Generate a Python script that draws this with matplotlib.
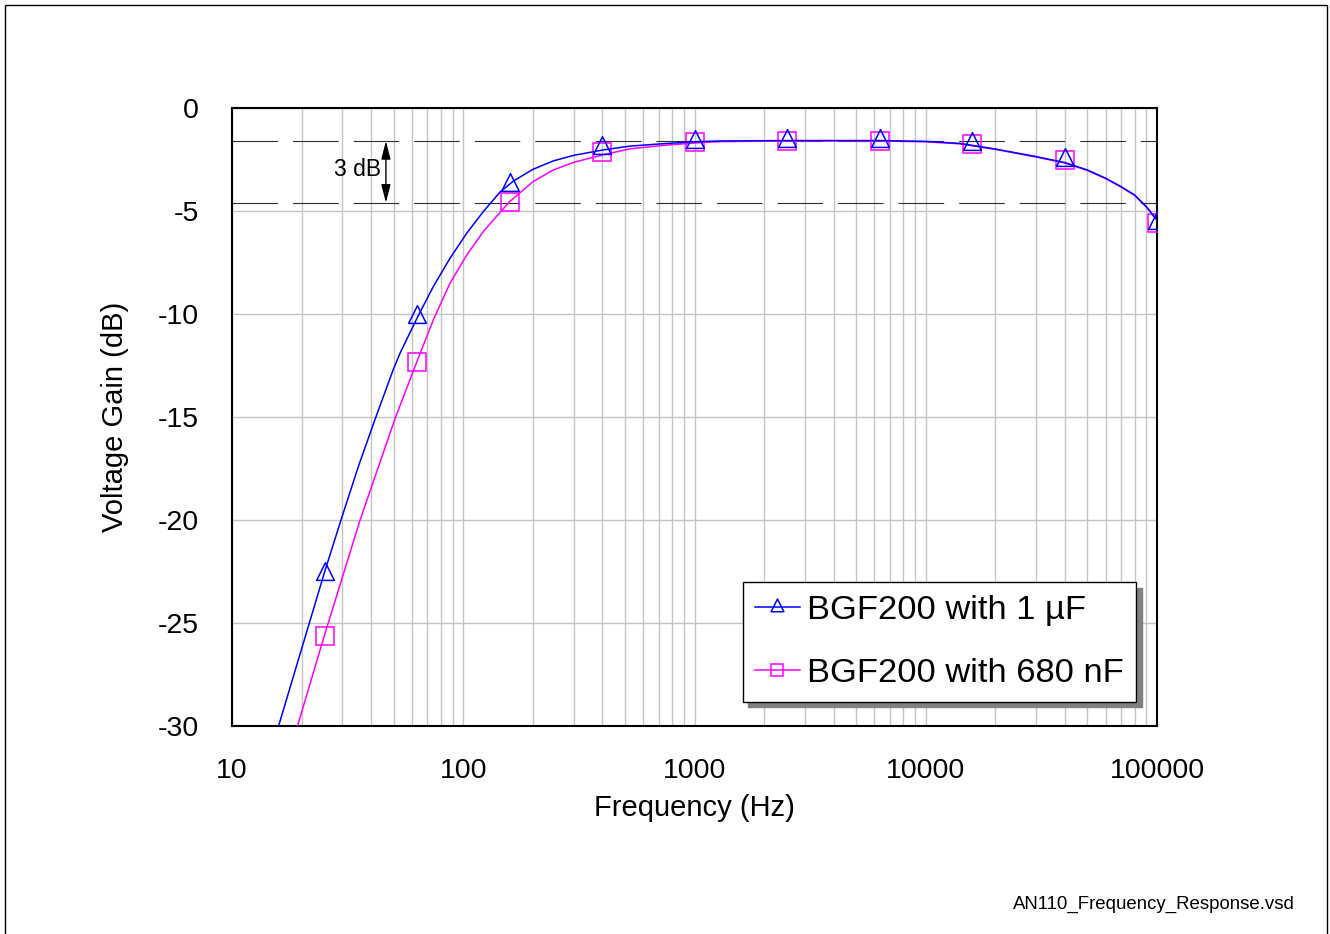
import numpy as np
import matplotlib
matplotlib.use("Agg")
import matplotlib.pyplot as plt
from matplotlib.path import Path
from matplotlib.patches import Rectangle

plt.rcParams["font.family"] = ["Liberation Sans", "DejaVu Sans"]

# --- curve samples (Hz, dB) ---
f_1uF = [15.9, 25.1, 29.6, 35.2, 41.9, 49.8, 53.3, 63.1, 74.2, 87.6, 103.5,
         122.1, 144.2, 164.6, 200, 244.9, 300, 400, 526, 758, 1057, 1288, 2512, 6310,
         10000, 14060, 20000, 30000, 40000, 50000, 60000, 70000, 80000, 90000,
         100000]
g_1uF = [-30.0, -22.55, -20.0, -17.4, -15.0, -12.7, -11.9, -10.2, -8.67, -7.30, -6.08,
         -5.03, -4.08, -3.55, -2.98, -2.57, -2.30, -2.04, -1.85, -1.72, -1.63, -1.60, -1.58, -1.58,
         -1.62, -1.72, -1.99, -2.36, -2.65, -3.01, -3.41, -3.82, -4.22, -4.79,
         -5.44]

f_680nF = [19.2, 25.1, 35.8, 51.0, 63.1, 74.2, 87.6, 103.5, 122.1, 134.9, 158.5,
           200, 244.9, 300, 400, 526, 758, 1057, 1288, 2512, 6310,
           10000, 14060, 20000, 30000, 40000, 50000, 60000, 70000, 80000, 90000,
           100000]
g_680nF = [-30.0, -25.6, -20.0, -15.0, -12.3, -10.29, -8.51, -7.14, -6.00, -5.44, -4.55,
           -3.58, -3.01, -2.64, -2.28, -1.98, -1.80, -1.68, -1.63, -1.60, -1.60,
           -1.64, -1.74, -2.01, -2.38, -2.67, -3.03, -3.43, -3.84, -4.24, -4.81,
           -5.46]

# measured points (markers)
f_meas = [25.12, 63.10, 158.5, 398.1, 1000, 2512, 6310, 15849, 39811, 100000]
m_1uF = [-22.6, -10.16, -3.73, -1.95, -1.67, -1.62, -1.62, -1.76, -2.5, -5.6]
m_680nF = [-25.64, -12.33, -4.55, -2.14, -1.66, -1.59, -1.60, -1.74, -2.5, -5.59]

x_ticks = [10, 100, 1000, 10000, 100000]
x_labels = ["10", "100", "1000", "10000", "100000"]
y_ticks = [0, -5, -10, -15, -20, -25, -30]
y_labels = ["0", "-5", "-10", "-15", "-20", "-25", "-30"]

band_top, band_bot = -1.6, -4.6

# triangle with its centroid at the origin
tri = Path([(0, 2 / 3), (-0.5, -1 / 3), (0.5, -1 / 3), (0, 0)], closed=True)

W, H = 1330, 934
fig = plt.figure(figsize=(W / 100, H / 100), dpi=100)
ax = fig.add_axes([232 / W, 1 - 726 / H, 925 / W, 618 / H])

ax.set_xscale("log")
ax.set_xlim(10, 100000)
ax.set_ylim(-30, 0)

ax.grid(True, which="both", axis="x", color="#c4c4c4", lw=1.0)
ax.grid(True, which="major", axis="y", color="#c4c4c4", lw=1.0)
ax.set_axisbelow(True)

for y in (band_top, band_bot):
    ax.axhline(y, color="#303030", lw=0.8, ls=(0, (41, 13.5)), zorder=1.5)

ax.plot(f_680nF, g_680nF, color="#ff00ff", lw=1.1, zorder=3)
ax.plot(f_meas, m_680nF, ls="none", marker="s", ms=12.5, mfc="none",
        mec="#ff00ff", mew=1.1, zorder=3)
ax.plot(f_1uF, g_1uF, color="#0000ff", lw=1.1, zorder=4)
ax.plot(f_meas, m_1uF, ls="none", marker=tri, ms=17, mfc="none",
        mec="#0000ff", mew=1.1, zorder=4)

# legend proxies
h1, = ax.plot([], [], color="#0000ff", lw=1.1, marker=tri, ms=17, mfc="none",
              mec="#0000ff", mew=1.1, label="BGF200 with 1 µF")
h2, = ax.plot([], [], color="#ff00ff", lw=1.1, marker="s", ms=12.5, mfc="none",
              mec="#ff00ff", mew=1.1, label="BGF200 with 680 nF")

# 3 dB arrow
ax.annotate("", xy=(46.3, band_top), xytext=(46.3, band_bot),
            arrowprops=dict(arrowstyle="<|-|>,head_length=0.55,head_width=0.14",
                            color="black", lw=1.0, mutation_scale=20,
                            shrinkA=0, shrinkB=0), zorder=5)
ax.text(44, -3.0, "3 dB", fontsize=16.5, ha="right", va="center", zorder=5)

ax.set_xticks(x_ticks)
ax.set_xticklabels(x_labels)
ax.xaxis.set_minor_formatter(plt.NullFormatter())
ax.set_yticks(y_ticks)
ax.set_yticklabels(y_labels)
ax.tick_params(which="both", length=0, labelsize=20.5)
ax.tick_params(axis="x", pad=23)
ax.tick_params(axis="y", pad=24)

for s in ax.spines.values():
    s.set_linewidth(1.5)
    s.set_color("black")

leg = ax.legend(handles=[h1, h2], loc="lower right",
                bbox_to_anchor=(0.977, 0.039), fontsize=24.8,
                markerscale=0.72, handlelength=1.3, handletextpad=0.2,
                labelspacing=0.95, borderpad=0.36, borderaxespad=0,
                fancybox=False, framealpha=1, edgecolor="black",
                shadow={"ox": 4.3, "oy": -4, "color": "0.5", "alpha": 1})
leg.get_frame().set_linewidth(1.0)
leg.set_zorder(10)

fig.text(115 / W, 1 - 417 / H, "Voltage Gain (dB)", rotation=90,
         fontsize=21, ha="center", va="center")
fig.text(694 / W, 1 - 808 / H, "Frequency (Hz)", fontsize=21,
         ha="center", va="center")
fig.text(1295 / W, 1 - 904 / H, "AN110_Frequency_Response.vsd",
         fontsize=13.4, ha="right", va="center")

fig.patches.append(Rectangle((5 / W, -0.01), 1322 / W, 1.01 - 5 / H,
                             transform=fig.transFigure, fill=False,
                             lw=1.0, edgecolor="black"))

fig.savefig("out.png", dpi=100)
